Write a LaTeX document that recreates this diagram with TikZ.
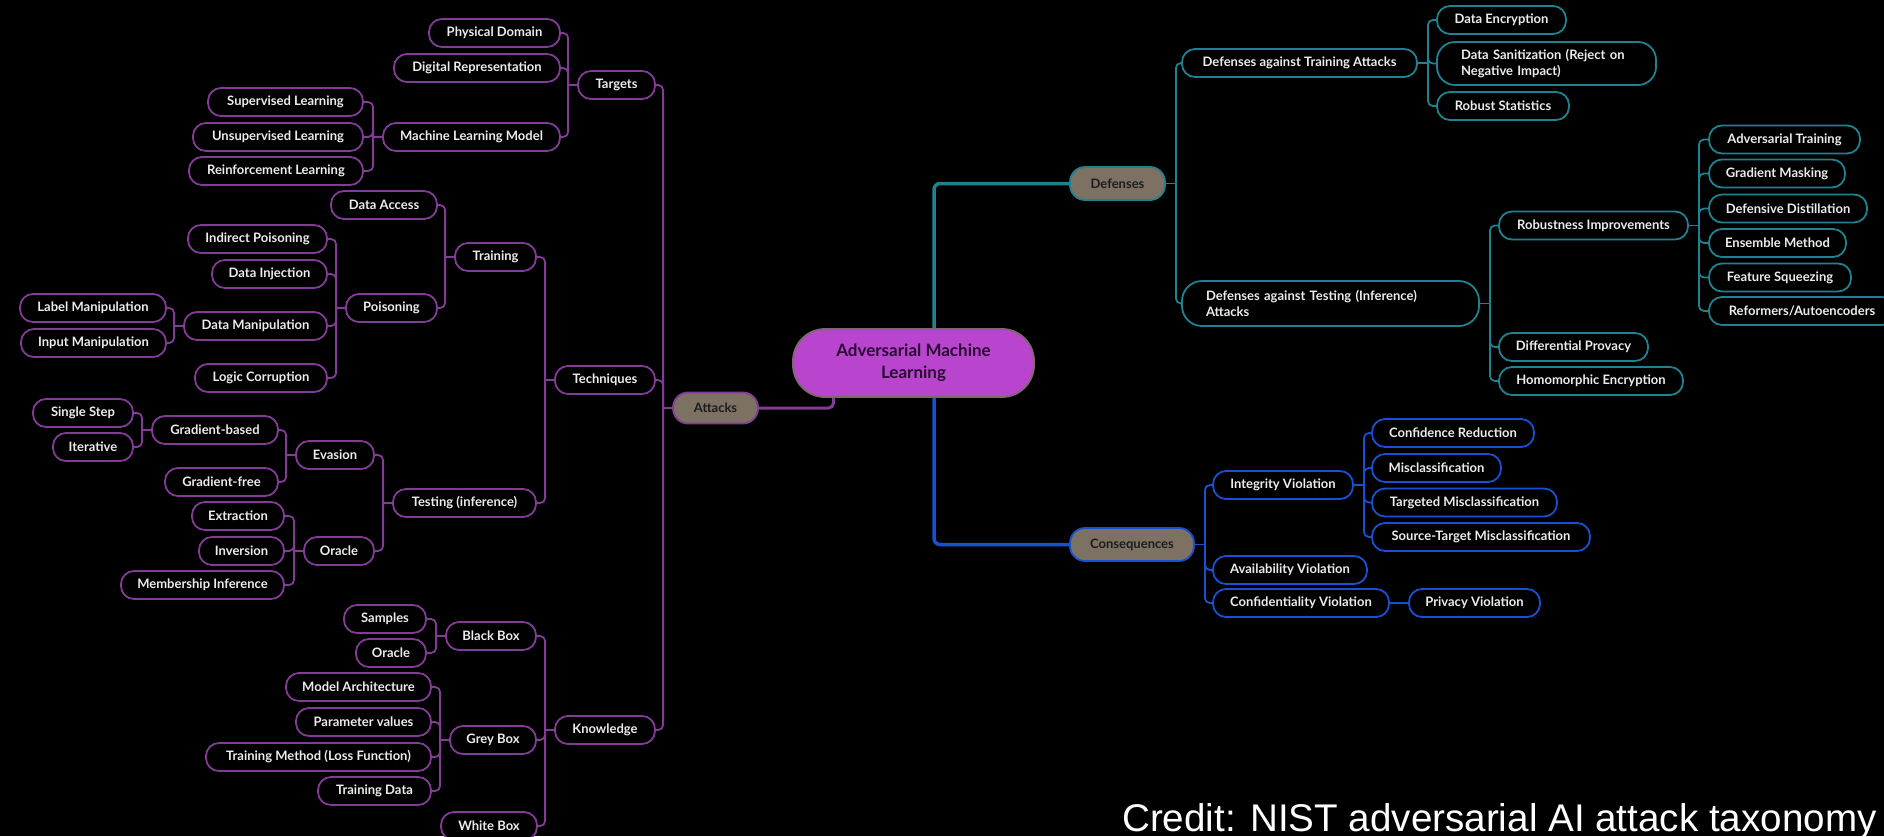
\documentclass[tikz,border=0pt]{standalone}
\usepackage{fontspec}
\setmainfont{Lato}
\newfontfamily\creditfont{Liberation Sans}
\usetikzlibrary{calc}
\definecolor{pline}{RGB}{130,60,150}
\definecolor{tline}{RGB}{30,130,145}
\definecolor{bline}{RGB}{25,80,210}
\definecolor{ntext}{RGB}{236,236,236}
\definecolor{catfill}{RGB}{125,113,100}
\definecolor{cattext}{RGB}{28,28,28}
\definecolor{rootfill}{RGB}{185,68,205}
\definecolor{rootborder}{RGB}{125,105,110}
\definecolor{roottext}{RGB}{40,10,50}
\newcommand{\nf}{\fontsize{13}{16}\selectfont\bfseries}
\newcommand{\Lbr}[3]{%
  \path (#2.west) ++(-9,0) coordinate (#2-j);
  \draw[#1] (#2.west) -- (#2-j);
  \foreach \ch in {#3} {\draw[#1, rounded corners=5pt] (#2-j) |- (\ch.east);}%
}
\newcommand{\Rbr}[3]{%
  \path (#2.east) ++(10,0) coordinate (#2-j);
  \draw[#1] (#2.east) -- (#2-j);
  \foreach \ch in {#3} {\draw[#1, rounded corners=5pt] (#2-j) |- (\ch.west);}%
}
\tikzset{
  pn/.style={draw=pline, fill=black, line width=1.8pt, rounded corners=13pt,
    minimum height=28pt, inner sep=0pt, text=ntext, font=\nf},
  tn/.style={pn, draw=tline},
  bn/.style={pn, draw=bline},
  cat/.style={fill=catfill, line width=1.8pt, rounded corners=15pt,
    minimum height=31pt, inner sep=0pt, text=cattext, font=\nf},
  pc/.style={draw=pline, line width=1.8pt},
  tc/.style={draw=tline, line width=1.8pt},
  bc/.style={draw=bline, line width=1.8pt},
}
\begin{document}
\begin{tikzpicture}[x=1pt,y=-1pt]
\useasboundingbox (0,0) rectangle (1884,836);
\fill[black] (0,0) rectangle (1884,836);
\clip (0,0) rectangle (1884,836);

% root
\node[fill=rootfill, draw=rootborder, line width=1.8pt, rounded corners=32pt,
  minimum width=241pt, minimum height=68pt, inner sep=0pt, align=center,
  text=roottext, font=\fontsize{17}{22}\selectfont\bfseries] (root) at (913.5,363)
  {Adversarial Machine\\Learning};

% categories
\node[cat, draw=pline, minimum width=85pt] (attacks) at (715.5,408) {Attacks};
\node[cat, draw=tline, minimum width=95pt, minimum height=33pt] (defenses) at (1117.5,183.5) {Defenses};
\node[cat, draw=bline, minimum width=124pt, minimum height=33pt] (conseq) at (1132,544.5) {Consequences};

% ---- left side (purple)
\node[pn, minimum width=131pt] (phys) at (494.5,33) {Physical Domain};
\node[pn, minimum width=166pt] (digi) at (477,68) {Digital Representation};
\node[pn, minimum width=77pt] (targets) at (616.5,85) {Targets};
\node[pn, minimum width=155pt] (sup) at (285.5,102) {Supervised Learning};
\node[pn, minimum width=170pt] (unsup) at (278,137) {Unsupervised Learning};
\node[pn, minimum width=177pt] (mlm) at (471.5,137) {Machine Learning Model};
\node[pn, minimum width=174pt] (reinf) at (276,171) {Reinforcement Learning};
\node[pn, minimum width=106pt] (daccess) at (384,205) {Data Access};
\node[pn, minimum width=139pt] (indirect) at (257.5,239) {Indirect Poisoning};
\node[pn, minimum width=81pt] (training) at (495.5,257) {Training};
\node[pn, minimum width=115pt] (dinj) at (269.5,274) {Data Injection};
\node[pn, minimum width=146pt] (labelm) at (93,308) {Label Manipulation};
\node[pn, minimum width=91pt] (poison) at (391.5,308) {Poisoning};
\node[pn, minimum width=143pt] (datam) at (255.5,326) {Data Manipulation};
\node[pn, minimum width=145pt] (inputm) at (93.5,343) {Input Manipulation};
\node[pn, minimum width=132pt] (logic) at (261,378) {Logic Corruption};
\node[pn, minimum width=100pt] (techniques) at (605,380) {Techniques};
\node[pn, minimum width=100pt] (single) at (83,413) {Single Step};
\node[pn, minimum width=126pt] (gradb) at (215,430) {Gradient-based};
\node[pn, minimum width=80pt] (iter) at (93,447) {Iterative};
\node[pn, minimum width=78pt] (evasion) at (335,455) {Evasion};
\node[pn, minimum width=113pt] (gradf) at (221.5,482) {Gradient-free};
\node[pn, minimum width=143pt] (testing) at (464.5,503) {Testing (inference)};
\node[pn, minimum width=92pt] (extract) at (238,516) {Extraction};
\node[pn, minimum width=85pt] (inversion) at (241.5,551) {Inversion};
\node[pn, minimum width=70pt] (oracle) at (339,551) {Oracle};
\node[pn, minimum width=163pt] (member) at (202.5,585) {Membership Inference};
\node[pn, minimum width=82pt] (samples) at (385,619) {Samples};
\node[pn, minimum width=90pt] (blackbox) at (491,636) {Black Box};
\node[pn, minimum width=70pt] (oracleb) at (391,653) {Oracle};
\node[pn, minimum width=145pt] (modelarch) at (358.5,687) {Model Architecture};
\node[pn, minimum width=135pt] (paramv) at (363.5,722) {Parameter values};
\node[pn, minimum width=100pt] (knowledge) at (605,730) {Knowledge};
\node[pn, minimum width=86pt] (greybox) at (493,740) {Grey Box};
\node[pn, minimum width=225pt] (trainmeth) at (318.5,757) {Training Method (Loss Function)};
\node[pn, minimum width=113pt] (traindata) at (374.5,791) {Training Data};
\node[pn, minimum width=96pt] (whitebox) at (489,826) {White Box};

% ---- right side: defenses (teal)
\node[tn, minimum width=235pt] (dta) at (1299.5,63) {Defenses against Training Attacks};
\node[tn, minimum width=129pt] (denc) at (1501.5,20) {Data Encryption};
\node[tn, minimum height=43pt, text width=171pt, inner xsep=24pt, align=left,
  rounded corners=18pt] (dsan) at (1546.5,63.5) {Data Sanitization (Reject on\\Negative Impact)};
\node[tn, minimum width=132pt] (rstat) at (1503,106) {Robust Statistics};
\node[tn, minimum height=45pt, text width=249pt, inner xsep=24pt, align=left,
  rounded corners=20pt] (dtest) at (1330.5,303.5) {Defenses against Testing (Inference)\\Attacks};
\node[tn, minimum width=189pt] (robust) at (1593.5,225.5) {Robustness Improvements};
\node[tn, minimum width=151pt] (advt) at (1784.5,139.5) {Adversarial Training};
\node[tn, minimum width=136pt] (gmask) at (1777,173.5) {Gradient Masking};
\node[tn, minimum width=158pt] (ddist) at (1788,208.5) {Defensive Distillation};
\node[tn, minimum width=137pt] (ensemble) at (1777.5,243) {Ensemble Method};
\node[tn, minimum width=142pt] (fsq) at (1780,277.5) {Feature Squeezing};
\node[tn, minimum width=186pt] (reform) at (1802,311) {Reformers/Autoencoders};
\node[tn, minimum width=149pt] (dprov) at (1573.5,347) {Differential Provacy};
\node[tn, minimum width=184pt] (homo) at (1591,381) {Homomorphic Encryption};

% ---- right side: consequences (blue)
\node[bn, minimum width=140pt] (integ) at (1283,485) {Integrity Violation};
\node[bn, minimum width=162pt] (confr) at (1453,433) {Confidence Reduction};
\node[bn, minimum width=129pt] (miscl) at (1436.5,468) {Misclassification};
\node[bn, minimum width=185pt] (targm) at (1464.5,502.5) {Targeted Misclassification};
\node[bn, minimum width=218pt] (stm) at (1481,537) {Source-Target Misclassification};
\node[bn, minimum width=154pt] (avail) at (1290,570) {Availability Violation};
\node[bn, minimum width=176pt] (confid) at (1301,603) {Confidentiality Violation};
\node[bn, minimum width=131pt] (privacy) at (1474.5,603) {Privacy Violation};

% ---- root connectors
\draw[draw=tline, line width=3.5pt, rounded corners=6pt] ([xshift=20.5pt]root.north) |- (defenses.west);
\draw[draw=bline, line width=3.5pt, rounded corners=6pt] ([xshift=20.5pt]root.south) |- (conseq.west);
\draw[draw=pline, line width=3pt, rounded corners=5pt] ([xshift=-80pt]root.south) |- (attacks.east);

% ---- branch connectors
\Lbr{pc}{attacks}{targets,techniques,knowledge}
\Lbr{pc}{targets}{phys,digi,mlm}
\Lbr{pc}{mlm}{sup,unsup,reinf}
\Lbr{pc}{techniques}{training,testing}
\Lbr{pc}{training}{daccess,poison}
\Lbr{pc}{poison}{indirect,dinj,datam,logic}
\Lbr{pc}{datam}{labelm,inputm}
\Lbr{pc}{testing}{evasion,oracle}
\Lbr{pc}{evasion}{gradb,gradf}
\Lbr{pc}{gradb}{single,iter}
\Lbr{pc}{oracle}{extract,inversion,member}
\Lbr{pc}{knowledge}{blackbox,greybox,whitebox}
\Lbr{pc}{blackbox}{samples,oracleb}
\Lbr{pc}{greybox}{modelarch,paramv,trainmeth,traindata}

\Rbr{tc}{defenses}{dta,dtest}
\Rbr{tc}{dta}{denc,dsan,rstat}
\Rbr{tc}{dtest}{robust,dprov,homo}
\Rbr{tc}{robust}{advt,gmask,ddist,ensemble,fsq,reform}

\Rbr{bc}{conseq}{integ,avail,confid}
\Rbr{bc}{integ}{confr,miscl,targm,stm}
\draw[bc] (confid.east) -- (privacy.west);

% credit
\node[anchor=base west, inner sep=0pt, text=white, font=\creditfont\fontsize{38.6}{44}\selectfont] (credit) at (1122,831) {Credit: NIST adversarial AI attack taxonomy};
\end{tikzpicture}
\end{document}
